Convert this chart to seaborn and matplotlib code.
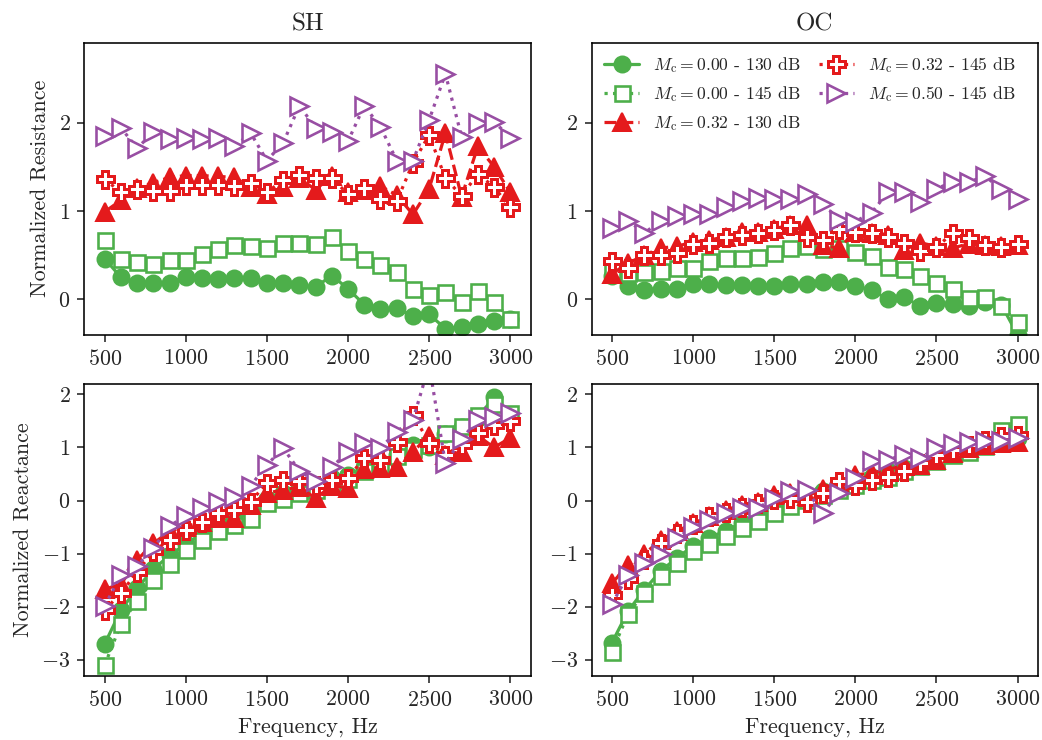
#!/usr/bin/env python
# coding: utf-8

"""
Normalized impedance of the liner, SH vs OC
- top row: resistance, bottom row: reactance
"""

import matplotlib
matplotlib.use("Agg")
import matplotlib.pyplot as plt
import seaborn as sns

# Settings
sns.set_style("ticks")
plt.rcParams['font.family'] = 'serif'
plt.rcParams['font.serif'] = ['cmr10']
plt.rcParams['mathtext.fontset'] = 'cm'
plt.rcParams['axes.formatter.use_mathtext'] = True
plt.rcParams['axes.unicode_minus'] = True

freq = [500, 600, 700, 800, 900, 1000, 1100, 1200, 1300, 1400, 1500, 1600, 1700,
        1800, 1900, 2000, 2100, 2200, 2300, 2400, 2500, 2600, 2700, 2800, 2900, 3000]

# --- SH, resistance ---
sh_r_000_130 = [0.46, 0.25, 0.18, 0.19, 0.19, 0.25, 0.24, 0.23, 0.24, 0.24, 0.19, 0.19, 0.16,
                0.14, 0.27, 0.12, -0.06, -0.11, -0.10, -0.19, -0.17, -0.33, -0.31, -0.28, -0.24, -0.22]
sh_r_000_145 = [0.67, 0.46, 0.42, 0.40, 0.44, 0.45, 0.51, 0.57, 0.61, 0.60, 0.58, 0.64, 0.64,
                0.63, 0.71, 0.55, 0.46, 0.39, 0.31, 0.12, 0.05, 0.08, -0.03, 0.10, -0.03, -0.22]
sh_r_032_130 = [0.99, 1.12, 1.26, 1.32, 1.38, 1.40, 1.40, 1.39, 1.38, 1.27, 1.19, 1.27, 1.37,
                1.24, 1.40, 1.21, 1.24, 1.28, 1.18, 0.96, 1.25, 1.88, 1.16, 1.73, 1.50, 1.21]
sh_r_032_145 = [1.36, 1.21, 1.25, 1.23, 1.23, 1.29, 1.29, 1.29, 1.28, 1.32, 1.21, 1.35, 1.41,
                1.37, 1.37, 1.19, 1.26, 1.14, 1.11, 1.54, 1.86, 1.37, 1.17, 1.42, 1.27, 1.04]
sh_r_050_145 = [1.85, 1.94, 1.71, 1.89, 1.81, 1.82, 1.81, 1.83, 1.73, 1.88, 1.57, 1.77, 2.19,
                1.94, 1.89, 1.79, 2.19, 1.95, 1.57, 1.57, 2.03, 2.55, 1.84, 1.99, 2.01, 1.83]

# --- OC, resistance ---
oc_r_000_130 = [0.27, 0.15, 0.11, 0.12, 0.12, 0.17, 0.17, 0.16, 0.16, 0.15, 0.15, 0.17, 0.17,
                0.20, 0.20, 0.15, 0.11, 0.00, 0.03, -0.08, -0.04, -0.05, -0.08, -0.03, -0.06, -0.40]
oc_r_000_145 = [0.33, 0.30, 0.31, 0.32, 0.35, 0.36, 0.43, 0.47, 0.47, 0.48, 0.53, 0.58, 0.60,
                0.57, 0.58, 0.54, 0.49, 0.37, 0.34, 0.27, 0.19, 0.12, 0.01, 0.03, -0.08, -0.26]
oc_r_032_130 = [0.29, 0.41, 0.50, 0.58, 0.60, 0.65, 0.67, 0.71, 0.76, 0.76, 0.80, 0.84, 0.84,
                0.61, 0.58, 0.76, 0.75, 0.73, 0.56, 0.64, 0.60, 0.58, 0.63, 0.61, 0.60, 0.62]
oc_r_032_145 = [0.43, 0.35, 0.50, 0.50, 0.53, 0.63, 0.64, 0.71, 0.73, 0.75, 0.79, 0.84, 0.71,
                0.67, 0.80, 0.76, 0.75, 0.70, 0.64, 0.55, 0.59, 0.75, 0.69, 0.62, 0.59, 0.63]
oc_r_050_145 = [0.81, 0.89, 0.75, 0.89, 0.94, 0.96, 0.96, 1.04, 1.11, 1.15, 1.13, 1.13, 1.19,
                1.08, 0.90, 0.88, 0.98, 1.21, 1.21, 1.10, 1.25, 1.33, 1.33, 1.39, 1.25, 1.13]

# --- SH, reactance ---
sh_x_000_130 = [-2.70, -2.07, -1.65, -1.30, -1.03, -0.82, -0.62, -0.45, -0.35, -0.22, 0.02, 0.15, 0.22,
                0.30, 0.42, 0.48, 0.62, 0.72, 0.85, 1.05, 1.00, 1.25, 1.38, 1.55, 1.96, 1.55]
sh_x_000_145 = [-3.10, -2.33, -1.89, -1.50, -1.19, -0.93, -0.74, -0.58, -0.46, -0.35, -0.05, 0.03, 0.15,
                0.20, 0.30, 0.40, 0.55, 0.65, 0.84, 0.98, 1.05, 1.28, 1.40, 1.62, 1.82, 1.65]
sh_x_032_130 = [-1.67, -1.58, -1.12, -0.81, -0.58, -0.49, -0.40, -0.33, -0.33, -0.08, 0.14, 0.20, 0.26,
                0.04, 0.28, 0.24, 0.60, 0.62, 0.64, 0.92, 1.22, 0.86, 0.91, 1.22, 1.00, 1.18]
sh_x_032_145 = [-2.06, -1.75, -1.34, -0.96, -0.74, -0.55, -0.40, -0.24, -0.18, -0.02, 0.33, 0.38, 0.36,
                0.30, 0.38, 0.43, 0.80, 0.77, 1.11, 1.62, 1.09, 0.86, 1.05, 1.28, 1.43, 1.49]
sh_x_050_145 = [-1.99, -1.40, -1.23, -0.90, -0.48, -0.29, -0.14, -0.02, 0.06, 0.28, 0.67, 0.99, 0.56,
                0.36, 0.63, 0.92, 1.08, 0.99, 1.30, 1.52, 2.55, 0.70, 1.16, 1.52, 1.57, 1.65]

# --- OC, reactance ---
oc_x_000_130 = [-2.68, -2.08, -1.68, -1.33, -1.08, -0.86, -0.70, -0.57, -0.42, -0.30, -0.15, -0.02, 0.08,
                0.18, 0.28, 0.38, 0.45, 0.55, 0.62, 0.72, 0.82, 0.90, 0.98, 1.05, 1.12, 1.18]
oc_x_000_145 = [-2.85, -2.13, -1.74, -1.42, -1.17, -0.96, -0.82, -0.67, -0.52, -0.38, -0.24, -0.11, 0.01,
                0.10, 0.20, 0.30, 0.38, 0.45, 0.55, 0.65, 0.75, 0.85, 0.92, 1.02, 1.32, 1.45]
oc_x_032_130 = [-1.56, -1.21, -1.01, -0.74, -0.58, -0.43, -0.30, -0.18, -0.08, -0.02, 0.11, 0.14, 0.08,
                0.22, 0.35, 0.48, 0.52, 0.58, 0.67, 0.67, 0.77, 0.89, 0.99, 1.05, 1.08, 1.11]
oc_x_032_145 = [-1.78, -1.47, -1.10, -0.80, -0.62, -0.45, -0.30, -0.22, -0.12, -0.05, 0.02, 0.04, -0.02,
                0.14, 0.36, 0.30, 0.39, 0.45, 0.55, 0.70, 0.85, 0.96, 1.05, 1.14, 1.21, 1.24]
oc_x_050_145 = [-1.95, -1.40, -1.18, -1.00, -0.71, -0.50, -0.37, -0.23, -0.15, -0.14, 0.04, 0.17, 0.19,
                -0.23, 0.14, 0.42, 0.74, 0.77, 0.86, 0.80, 0.99, 1.07, 1.10, 1.12, 1.12, 1.18]

labels = [r'$M_\mathrm{c} = 0.00$ - 130 dB', r'$M_\mathrm{c} = 0.00$ - 145 dB',
          r'$M_\mathrm{c} = 0.32$ - 130 dB', r'$M_\mathrm{c} = 0.32$ - 145 dB',
          r'$M_\mathrm{c} = 0.50$ - 145 dB']

GREEN, RED, PURPLE = '#4daf4a', '#e41a1c', '#984ea3'

# one style per series: color, line style, marker, size, face color
styles = [
    dict(color=GREEN, linestyle='-', marker='o', markersize=8, markerfacecolor=GREEN,
         markeredgecolor=GREEN, markeredgewidth=1.0),
    dict(color=GREEN, linestyle=':', marker='s', markersize=7.5, markerfacecolor='white',
         markeredgecolor=GREEN, markeredgewidth=1.3),
    dict(color=RED, linestyle='--', marker='^', markersize=9, markerfacecolor=RED,
         markeredgecolor=RED, markeredgewidth=1.0),
    dict(color=RED, linestyle=':', marker='P', markersize=8.5, markerfacecolor='white',
         markeredgecolor=RED, markeredgewidth=1.5),
    dict(color=PURPLE, linestyle=':', marker='>', markersize=9, markerfacecolor='white',
         markeredgecolor=PURPLE, markeredgewidth=1.3),
]

panels = {
    (0, 0): [sh_r_000_130, sh_r_000_145, sh_r_032_130, sh_r_032_145, sh_r_050_145],
    (0, 1): [oc_r_000_130, oc_r_000_145, oc_r_032_130, oc_r_032_145, oc_r_050_145],
    (1, 0): [sh_x_000_130, sh_x_000_145, sh_x_032_130, sh_x_032_145, sh_x_050_145],
    (1, 1): [oc_x_000_130, oc_x_000_145, oc_x_032_130, oc_x_032_145, oc_x_050_145],
}

fig, axes = plt.subplots(2, 2, figsize=(1042 / 144, 740 / 144), dpi=144)
fig.subplots_adjust(left=0.081, right=0.996, top=0.942, bottom=0.087,
                    wspace=0.137, hspace=0.168)

for (r, c), series in panels.items():
    ax = axes[r, c]
    for vals, lab, st in zip(series, labels, styles):
        sns.lineplot(x=freq, y=vals, ax=ax, label=lab, legend=False,
                     linewidth=1.6, **st)
    ax.set_xlim(375, 3125)
    ax.set_xticks([500, 1000, 1500, 2000, 2500, 3000])
    if r == 0:
        ax.set_ylim(-0.4, 2.9)
        ax.set_yticks([0, 1, 2])
    else:
        ax.set_ylim(-3.3, 2.2)
        ax.set_yticks([-3, -2, -1, 0, 1, 2])
        ax.set_xlabel('Frequency, Hz', fontsize=11)
    ax.tick_params(labelsize=11)
    for sp in ax.spines.values():
        sp.set_color('black')
        sp.set_linewidth(0.8)

axes[0, 0].set_title('SH', fontsize=12.5)
axes[0, 1].set_title('OC', fontsize=12.5)
axes[0, 0].set_ylabel('Normalized Resistance', fontsize=11)
axes[1, 0].set_ylabel('Normalized Reactance', fontsize=11)

axes[0, 1].legend(loc='upper left', ncol=2, frameon=False, fontsize=8.8,
                  columnspacing=1.0, handlelength=2.0, borderaxespad=0.3)

plt.savefig('out.png', dpi=144)
plt.close()
